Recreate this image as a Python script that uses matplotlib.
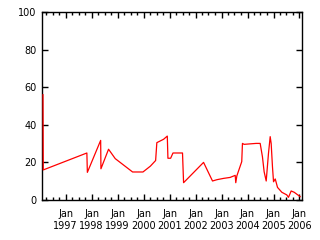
import numpy as np
import matplotlib
matplotlib.use('Agg')
import matplotlib.pyplot as plt
import matplotlib.dates as mdates

# dates and values
dates = ['1996-02-16', '1996-02-20', '1997-10-25', '1997-11-01', '1998-05-07',
         '1998-05-11', '1998-08-26', '1998-11-28', '1999-07-30', '1999-12-23',
         '2000-04-05', '2000-06-18', '2000-07-05', '2000-10-08', '2000-11-29',
         '2000-12-08', '2001-01-15', '2001-02-17', '2001-07-01', '2001-07-16',
         '2002-04-23', '2002-08-27', '2002-10-28', '2003-01-30', '2003-05-01',
         '2003-07-12', '2003-07-20', '2003-08-04', '2003-10-12', '2003-10-22',
         '2003-11-14', '2004-05-01', '2004-06-27', '2004-07-29', '2004-08-22',
         '2004-09-20', '2004-10-22', '2004-11-15', '2004-11-29', '2004-12-17',
         '2005-01-01', '2005-01-25', '2005-02-26', '2005-04-28', '2005-07-07',
         '2005-07-30', '2005-09-06', '2005-10-19', '2006-01-10']
values = [56, 16, 25, 14.7, 31.7,
          16.6, 27, 22, 14.9, 14.9,
          18, 21, 30.5, 32.3, 34,
          22.2, 22.2, 25, 25, 9.2,
          20, 10.1, 10.8, 11.5, 12,
          13.1, 9.2, 12.8, 20.4, 30.1,
          29.6, 30.1, 30.1, 23, 15,
          10.1, 24.8, 33.7, 30, 17.7,
          9.7, 11.2, 6.7, 4.1, 2.7,
          1.4, 4.8, 4.1, 1.8]

x = np.array(dates, dtype='datetime64[D]')
y = np.array(values)

fig = plt.figure(figsize=(3.2, 2.4), dpi=100)
ax = fig.add_axes([0.131, 0.1667, 0.812, 0.7833])
ax.plot(x, y, color='red', lw=0.9, zorder=3)

ax.set_xlim(np.datetime64('1996-02-01'), np.datetime64('2006-02-02'))
ax.set_ylim(0, 100)
ax.set_yticks([0, 20, 40, 60, 80, 100])

ax.xaxis.set_major_locator(mdates.YearLocator())
ax.xaxis.set_major_formatter(mdates.DateFormatter('Jan\n%Y'))
ax.xaxis.set_minor_locator(mdates.MonthLocator(bymonth=[4, 7, 10]))

ax.tick_params(which='both', direction='in', top=True, right=True,
               labelsize=7, width=1, colors='black')
ax.tick_params(which='major', length=4)
ax.tick_params(which='minor', length=2.5)
ax.tick_params(axis='x', pad=6.5)
ax.tick_params(axis='y', pad=4)
for lbl in ax.get_xticklabels():
    lbl.set_linespacing(1.25)
for s in ax.spines.values():
    s.set_linewidth(1)

plt.savefig('out.png', dpi=100)
